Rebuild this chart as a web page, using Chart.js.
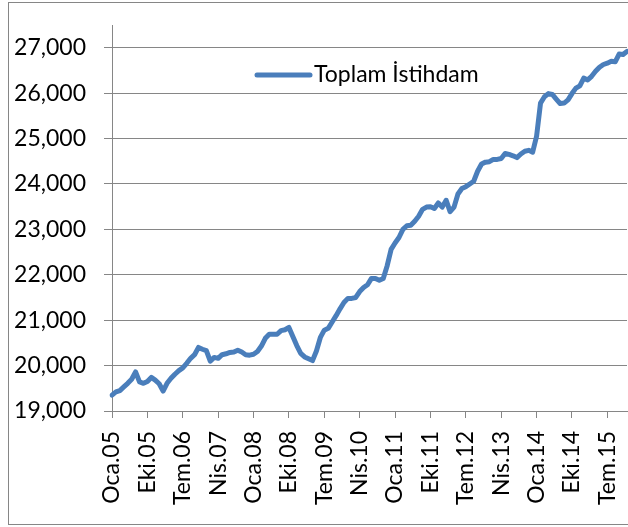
<!DOCTYPE html>
<html>
<head>
<meta charset="utf-8">
<script src="https://cdn.jsdelivr.net/npm/chart.js@4"></script>
<style>
  html, body { margin: 0; padding: 0; background: #fff; overflow: hidden; }
  #frame { position: absolute; left: 8px; top: 2px; width: 700px; height: 523px; border: 1px solid #868686; box-sizing: border-box; }
  #chart { position: absolute; left: 0; top: 0; }
</style>
</head>
<body>
<div id="frame"></div>
<canvas id="chart" width="628" height="527"></canvas>
<script>
// aylar ve yillar
const months = ["Oca", "Şub", "Mar", "Nis", "May", "Haz", "Tem", "Ağu", "Eyl", "Eki", "Kas", "Ara"];
const years = ["05", "06", "07", "08", "09", "10", "11", "12", "13", "14", "15"];

const labels = [];
years.forEach(function (y) {
  months.forEach(function (m) { labels.push(m + "." + y); });
});

// Toplam istihdam (bin kisi), Oca.05 - Ara.15
const istihdam = [
  19350, 19420, 19450, 19530, 19610, 19700, 19860, 19640, 19610, 19650, 19740, 19680,
  19600, 19440, 19610, 19720, 19810, 19890, 19950, 20050, 20160, 20240, 20400, 20360,
  20330, 20100, 20180, 20160, 20240, 20260, 20290, 20300, 20340, 20300, 20240, 20230,
  20250, 20310, 20430, 20600, 20690, 20690, 20690, 20770, 20790, 20840, 20640, 20440,
  20270, 20190, 20150, 20110, 20320, 20620, 20780, 20820, 20960, 21100, 21250, 21390,
  21480, 21480, 21500, 21630, 21720, 21780, 21920, 21920, 21880, 21920, 22200, 22560,
  22700, 22820, 23000, 23080, 23090, 23180, 23290, 23440, 23490, 23500, 23460, 23580,
  23490, 23640, 23390, 23490, 23780, 23900, 23940, 24000, 24060, 24280, 24440, 24480,
  24490, 24540, 24540, 24560, 24670, 24650, 24620, 24580, 24660, 24720, 24740, 24700,
  25050, 25780, 25920, 25990, 25970, 25870, 25770, 25780, 25850, 25990, 26110, 26160,
  26330, 26290, 26370, 26480, 26570, 26630, 26660, 26700, 26690, 26860, 26850, 26920
];

// y ekseni etiketleri
const yTicks = [19000, 20000, 21000, 22000, 23000, 24000, 25000, 26000, 27000];
const yMin = 19000;
const yMax = 27500;
const labelStep = 9;

const fontName = "Lato, 'Noto Sans', sans-serif";
const gray = "#868686";

function noPadding(scale) {
  scale.paddingTop = 0;
  scale.paddingBottom = 0;
  scale.paddingLeft = 0;
  scale.paddingRight = 0;
}

// Excel'deki gibi grafik icine yerlestirilmis lejant
const insideLegend = {
  id: "insideLegend",
  afterDraw: function (chart) {
    const ctx = chart.ctx;
    const ds = chart.data.datasets[0];
    ctx.save();
    ctx.strokeStyle = ds.borderColor;
    ctx.lineWidth = 5;
    ctx.lineCap = "round";
    ctx.beginPath();
    ctx.moveTo(257, 75);
    ctx.lineTo(310, 75);
    ctx.stroke();
    ctx.fillStyle = "#000";
    ctx.font = "23px " + fontName;
    ctx.textBaseline = "middle";
    ctx.textAlign = "left";
    ctx.fillText(ds.label, 314, 75);
    ctx.restore();
  }
};

new Chart(document.getElementById("chart"), {
  type: "line",
  data: {
    labels: labels,
    datasets: [{
      label: "Toplam İstihdam",
      data: istihdam,
      borderColor: "#4A7EBB",
      borderWidth: 5,
      pointRadius: 0,
      tension: 0,
      fill: false,
      borderJoinStyle: "round",
      borderCapStyle: "round"
    }]
  },
  options: {
    responsive: false,
    animation: false,
    layout: { padding: { left: 0, top: 25, right: 1, bottom: 0 } },
    plugins: {
      legend: { display: false },
      tooltip: { enabled: false }
    },
    scales: {
      x: {
        type: "category",
        offset: false,
        afterBuildTicks: function (scale) {
          scale.ticks = scale.ticks.filter(function (t) { return t.value % labelStep === 0; });
        },
        afterFit: function (scale) { scale.height = 116; noPadding(scale); },
        grid: { drawOnChartArea: false, drawTicks: true, tickLength: 7, color: gray },
        border: { color: gray, width: 1 },
        ticks: {
          autoSkip: false,
          maxRotation: 90,
          minRotation: 90,
          padding: 13,
          color: "#000",
          font: { family: fontName, size: 23 }
        }
      },
      y: {
        min: yMin,
        max: yMax,
        bounds: "data",
        afterBuildTicks: function (scale) {
          scale.ticks = yTicks.map(function (v) { return { value: v }; });
        },
        afterFit: function (scale) { scale.width = 112; noPadding(scale); },
        grid: { color: gray, lineWidth: 1, tickLength: 8 },
        border: { color: gray, width: 1 },
        ticks: {
          padding: 18,
          color: "#000",
          font: { family: fontName, size: 23 },
          callback: function (v) { return v.toLocaleString("en-US"); }
        }
      }
    }
  },
  plugins: [insideLegend]
});
</script>
</body>
</html>
